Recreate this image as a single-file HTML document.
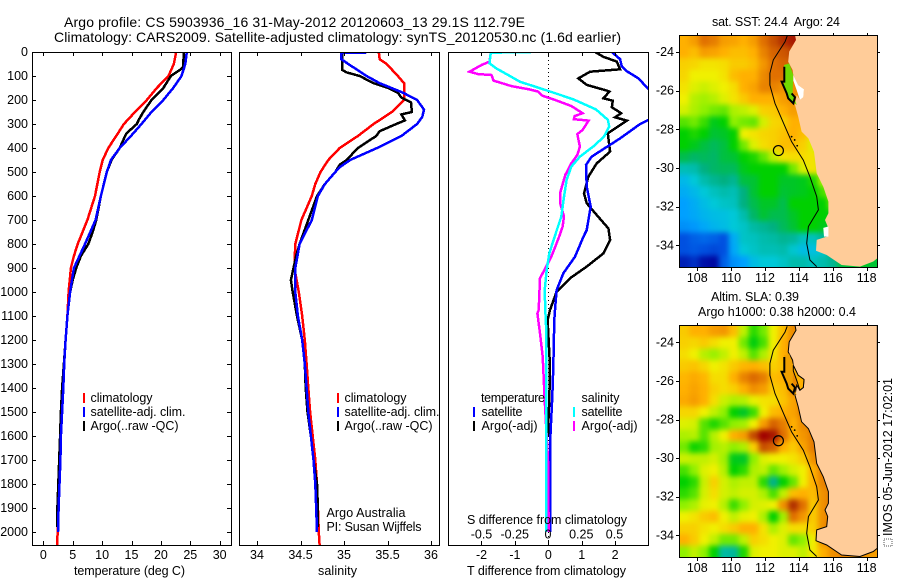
<!DOCTYPE html>
<html>
<head>
<meta charset="utf-8">
<title>Argo profile</title>
<style>
html,body{margin:0;padding:0;background:#fff;}
svg{display:block;font-family:"Liberation Sans",sans-serif;font-size:12.5px;fill:#000;}
text{fill:#000;}
</style>
</head>
<body>
<svg id="chart" width="900" height="580" viewBox="0 0 900 580" xmlns="http://www.w3.org/2000/svg">
  <defs>
    <clipPath id="clip-t"><rect x="32" y="52" width="199" height="493"/></clipPath>
    <clipPath id="clip-s"><rect x="240" y="52" width="199" height="493"/></clipPath>
    <clipPath id="clip-d"><rect x="448" y="52" width="200" height="493"/></clipPath>
    <clipPath id="clip-m1"><rect x="679" y="35" width="198" height="232"/></clipPath>
    <clipPath id="clip-m2"><rect x="679" y="325" width="198" height="232"/></clipPath>
    <filter id="soft-field" filterUnits="userSpaceOnUse" x="640" y="0" width="260" height="580" color-interpolation-filters="sRGB"><feGaussianBlur stdDeviation="2.6"/></filter>
  </defs>
  <rect x="0" y="0" width="900" height="580" fill="#fff"/>
  <text x="64" y="27" font-size="14" textLength="461">Argo profile: CS 5903936_16 31-May-2012 20120603_13 29.1S 112.79E</text>
  <text x="54" y="42" font-size="14" textLength="567">Climatology: CARS2009. Satellite-adjusted climatology: synTS_20120530.nc (1.6d earlier)</text>

  <g id="panel-t"></g>
  <g id="panel-s"></g>
  <g id="panel-d"></g>
  <g id="map-1"></g>
  <g id="map-2"></g>

  <text x="74" y="575" textLength="111">temperature (deg C)</text>
  <text x="318" y="575" textLength="39">salinity</text>
  <text x="467" y="575" textLength="159">T difference from climatology</text>
  <text x="467" y="524" textLength="160">S difference from climatology</text>

  <g>
    <rect x="83" y="393" width="2" height="10" fill="#f00"/>
    <rect x="83" y="407" width="2" height="10" fill="#00f"/>
    <rect x="83" y="421" width="2" height="10" fill="#000"/>
    <text x="90.5" y="402" textLength="62">climatology</text>
    <text x="90.5" y="416" textLength="95">satellite-adj. clim.</text>
    <text x="90.5" y="430" textLength="88">Argo(..raw -QC)</text>
  </g>
  <g>
    <rect x="337" y="393" width="2" height="10" fill="#f00"/>
    <rect x="337" y="407" width="2" height="10" fill="#00f"/>
    <rect x="337" y="421" width="2" height="10" fill="#000"/>
    <text x="344.5" y="402" textLength="62">climatology</text>
    <text x="344.5" y="416" textLength="95">satellite-adj. clim.</text>
    <text x="344.5" y="430" textLength="88">Argo(..raw -QC)</text>
    <text x="326.5" y="517" textLength="79">Argo Australia</text>
    <text x="326.5" y="531" textLength="95">PI: Susan Wijffels</text>
  </g>
  <g>
    <text x="481" y="402" textLength="64">temperature</text>
    <rect x="473" y="407" width="2" height="10" fill="#00f"/>
    <rect x="473" y="421" width="2" height="10" fill="#000"/>
    <text x="481.5" y="416" textLength="41">satellite</text>
    <text x="481.5" y="430" textLength="56">Argo(-adj)</text>
    <text x="581.5" y="402" textLength="38">salinity</text>
    <rect x="573" y="407" width="2" height="10" fill="#0ff"/>
    <rect x="573" y="421" width="2" height="10" fill="#f0f"/>
    <text x="581.5" y="416" textLength="41">satellite</text>
    <text x="581.5" y="430" textLength="56">Argo(-adj)</text>
  </g>

  <text x="712" y="26" textLength="128">sat. SST: 24.4&#160; Argo: 24</text>
  <text x="711" y="301" textLength="88">Altim. SLA: 0.39</text>
  <text x="698" y="316" textLength="158">Argo h1000: 0.38 h2000: 0.4</text>
  <rect x="884" y="539" width="8" height="7" fill="none" stroke="#555" stroke-width="1" stroke-dasharray="1 1"/>
  <text transform="translate(892,536) rotate(-90)" textLength="158">IMOS 05-Jun-2012 17:02:01</text>
</svg>
<script>
/* ---- profile data ---- */
const depthTicks = [0,100,200,300,400,500,600,700,800,900,1000,1100,1200,1300,1400,1500,1600,1700,1800,1900,2000];
const tempTicks = [0,5,10,15,20,25,30];
const salTicks = [34,34.5,35,35.5,36];
const tDiffTicks = [-2,-1,0,1,2];
const sDiffTicks = [-0.5,-0.25,0,0.25,0.5];
const lonTicks = [108,110,112,114,116,118];
const latTicks = [24,26,28,30,32,34];

const tempClimDepth = [0,50,100,150,200,250,300,350,400,450,500,600,700,800,850,900,1000,1100,1200,1300,1400,1500,1600,1700,1800,1900,2000,2054];
const tempClimValue = [22.6,22.2,21.3,19.3,17.6,15.6,13.7,12.4,11.05,10.1,9.6,8.8,7.5,5.85,5.2,4.7,4.3,4.1,3.8,3.5,3.3,3.18,3.0,2.85,2.72,2.55,2.45,2.33];
const tempSatDepth = [0,50,100,150,200,250,300,350,400,450,500,600,700,800,900,1000,1100,1200,1300,1400,1500,1600,1700,1800,1900,2000];
const tempSatValue = [24.4,24.15,23.5,22.1,20.4,18.4,16.7,14.9,13,11.5,10.8,9.8,8.9,7.1,5.2,4.55,4.1,3.8,3.55,3.4,3.2,3.0,2.9,2.75,2.6,2.5];
const tempArgoDepth = [0,60,70,100,150,200,250,280,300,340,400,450,500,600,700,750,800,850,900,950,1000,1100,1200,1300,1400,1500,1600,1700,1800,1900,1980];
const tempArgoValue = [23.9,23.8,23.5,21.7,20.4,18.4,17,16.3,15.9,14.1,13,11.6,10.8,9.8,9,8.4,7.65,6.4,5.6,5,4.55,4.1,3.8,3.5,3.2,3.0,2.85,2.7,2.55,2.4,2.4];

const salClimDepth = [0,30,50,100,130,200,250,300,350,400,450,500,550,600,700,800,900,1000,1100,1200,1300,1400,1500,1600,1700,1800,1900,2000,2054];
const salClimValue = [35.4,35.41,35.49,35.62,35.69,35.69,35.55,35.34,35.16,34.95,34.82,34.73,34.67,34.63,34.51,34.44,34.43,34.48,34.52,34.55,34.57,34.59,34.61,34.64,34.67,34.69,34.7,34.71,34.72];
const salSatDepth = [2,4,30,50,100,130,170,200,240,270,300,350,400,450,480,500,550,600,700,800,900,1000,1100,1200,1300,1400,1500,1600,1700,1800,1900,2000];
const salSatValue = [35.26,34.97,34.97,35.05,35.26,35.41,35.68,35.84,35.92,35.9,35.84,35.66,35.38,35.07,34.95,34.9,34.78,34.7,34.63,34.49,34.44,34.44,34.47,34.52,34.55,34.57,34.59,34.62,34.65,34.67,34.68,34.69];
const salArgoDepth = [0,75,85,100,115,130,150,170,190,210,250,260,285,300,330,350,400,450,470,500,550,600,700,800,850,900,950,1000,1100,1200,1300,1400,1500,1600,1700,1800,1900,1980];
const salArgoValue = [34.98,34.98,35.03,35.18,35.26,35.34,35.51,35.62,35.66,35.77,35.78,35.66,35.7,35.6,35.41,35.37,35.16,35.03,34.95,34.9,34.78,34.69,34.59,34.49,34.45,34.42,34.39,34.41,34.46,34.52,34.55,34.56,34.58,34.62,34.65,34.69,34.7,34.7];

const dTArgoDepth = [0,20,40,72,82,110,137,161,165,193,203,230,255,272,286,339,415,464,519,589,630,679,735,783,839,894,943,999,1075,1117,1311,1450,1547,1600];
const dTArgoValue = [1.4,1.65,2.05,2.15,1.25,0.9,1.15,1.75,1.83,1.65,1.93,1.9,2.18,2,2.35,1.78,1.85,1.45,1.2,1.07,1.15,1.45,1.8,1.85,1.65,1.15,0.65,0.25,0.05,-0.02,0.05,0.03,0,0];
const dTSatDepth = [0,30,60,80,110,155,200,283,300,360,400,436,471,561,644,742,770,853,922,992,1075,1117,1311,1436,1547,1640,2000];
const dTSatValue = [1.9,2.15,2.2,2.35,2.7,3,3.4,3,2.75,2.15,1.7,1.3,1.13,1.15,1.27,1.15,1.05,0.8,0.45,0.25,0.2,0.18,0.15,0.12,0.08,0.05,0.05];
const dSArgoDepth = [2,40,54,82,92,96,119,142,156,165,183,197,225,255,267,280,286,325,342,394,429,464,512,589,628,686,728,776,853,943,1075,1089,1172,1269,1450,1700,2000];
const dSArgoValue = [-0.43,-0.44,-0.5,-0.59,-0.525,-0.425,-0.41,-0.275,-0.14,-0.075,-0.04,0.04,0.175,0.26,0.2,0.195,0.305,0.26,0.22,0.24,0.22,0.175,0.13,0.09,0.09,0.12,0.11,0.08,0.025,-0.06,-0.07,-0.08,-0.06,-0.04,-0.025,0,0.005];
const dSSatDepth = [0,3,47,68,96,124,151,169,197,239,283,311,353,394,436,478,533,603,686,770,839,908,992,1075,1172,2000];
const dSSatValue = [-0.125,-0.43,-0.44,-0.39,-0.3,-0.21,-0.06,0.04,0.19,0.36,0.45,0.46,0.42,0.34,0.24,0.175,0.14,0.12,0.1,0.05,0.01,-0.01,-0.025,-0.02,-0.012,-0.012];

/* ---- map data: colour level per cell, north to south ---- */
const sstLevels = [
[8,8.3,9,8.8,8.3,8.2,8,8.3,9,9.5,10,10.5],
[8,7.8,8.3,8.2,8,7.8,7.8,8,8.7,9.2,9.4,9.7,9.7],
[7.5,7.4,7.2,7.2,7.3,7.6,7.6,7.8,8.4,9,9.2,9.3,9],
[7.4,7,7,7,7.2,7.8,8,8,8.6,9,9,9,8.8],
[7.2,6.8,6.6,6.8,7,7.3,8,8.2,8.7,8.7,8.5,8.5,8.5],
[7,6.4,6.2,6.4,6.8,7.2,7.6,8,8,8,8.3,8.5,8.5],
[6.7,6.3,6,5.8,5.7,6.3,6.5,6.8,7.5,7.6,8,8.3,8.2,8],
[5.6,5.8,5.4,4.8,5,6,5.8,5.7,6.7,7.4,7.5,8,8,7.5],
[5,5.2,5,4.6,4.7,5,7,7.2,7.4,7.5,7.7,8,7.8,7,6],
[5,4.8,4.5,4.3,4.5,5,5.8,6.8,7.3,7.5,7.8,7.8,7.5,6.8,5.3,5],
[4.4,4.2,4.3,4.2,4.5,4.6,5,5.2,5.7,6.5,7.2,7.3,7.3,7.2,6,5],
[3.4,3.5,4,4.2,4.3,4.3,4.8,5,5,5,5,5.8,6.8,7.2,6.5,5.5],
[2.6,3,3.5,3.8,4,3.8,4.5,4.6,5,5,4.7,4.7,4.8,5.2,6.3,6,5],
[2.3,2.6,3,3.3,3.5,3.4,4,4.6,5,5,4.6,4.7,4.8,5,5.5,6.5,5.5],
[2,2.3,2.7,3,3.2,3.3,4,4.4,4.7,4.7,4.4,5,5,5,5,5.8,5],
[2,2.2,2.5,2.7,2.8,3,3.5,4.2,4.6,4.4,4.4,4.7,5,5,5,4.8,4.6],
[1.8,1.9,2.2,2.5,2.7,3,3.2,3.6,3.8,4,4.3,4.6,5,5,4.8,4.5,4.5],
[1,1.2,1.3,1.2,1,2.3,3.2,3.3,3.5,3.6,3.8,3.7,3.3,3.3,3.7,4.4,4.4,4.5],
[1,1.1,1,0.9,1,2.2,3,3.2,3.4,3.4,3.5,3.1,2.7,2.8,3.1,4.2,4.4,4.6],
[0.4,0.6,0.2,0.1,1.2,1.8,2,2.7,3,3,3.2,3.5,3.5,3.3,3.5,3.8,4.5,4.6,4.7,4.6]
];
const slaLevels = [
[7.6,8,8,8.3,8.4,7.8,6.5,5.3,5.8,7,7.8,8.6,8.6],
[7.5,7.4,7.6,7.3,7,7,5.8,4.9,5.5,7,8,8.6,8.6,8.6],
[7.3,7,6.4,6.1,6.5,7,6.5,5.6,6.3,7.2,8,8.6,8.6],
[7.6,7.7,7.4,7,7.2,7.6,7.9,8,7.8,7.5,7.8,8.6,8.6,8.6],
[7.9,8.1,7.9,7.3,7.3,8,8.7,9.1,8.8,7.8,8,8.6,8.6],
[8,8.2,8,7.5,7.3,7.5,8,8.5,8.3,7.6,7.8,8.6,8.8],
[8.1,8.3,8,7.3,6.6,6.3,6.4,6.9,7.2,7.3,7.7,8.2,8.8,9],
[7.4,7.4,7,6.5,6,5,4.7,5.4,7,7.8,8,8.2,8.8,9],
[6.8,6.7,5.6,5.2,5.6,6,6.2,7,8.3,9.2,8.8,8,8.6,8.9,9],
[6.3,6.4,5.6,6.4,7,8,8.3,9.6,11,10.5,9,8,8.4,8.8,9],
[5.8,5.1,5.3,6.2,6.4,6,6.3,7.5,9.5,9.2,8,7.6,8.2,8.8,9],
[6.6,6.5,6.5,6.7,6.2,4.8,4.7,6,6.8,7,7,7.2,7.6,8.5,9],
[5.5,6,6.8,7,6.4,5,5.3,6.3,6.5,5.7,6.2,6.7,7,8,8.8,9],
[5,5.3,6.6,7.5,6.7,6.3,6.5,6.5,5.3,3.9,5,5.7,7,8,8.7,9],
[5.3,5.6,6.7,7.3,6.7,6.5,6.7,6.7,6.3,5.5,6.5,7.8,8,7.8,8.5,8.9],
[6,6.3,6.9,7,6.4,5.4,6,6.7,6.8,7,8.5,10,9,7.6,8.5,9],
[7,7.2,7.6,7.8,7,6.5,6.9,7,6.3,5,6.2,9,8.4,7.6,8.5,9,9],
[7.5,7.5,7.2,7,7.3,7.6,8,8,7.2,6.3,6.8,7.3,7.3,7.5,8.5,9.2],
[8,7.6,7,6.5,5.8,5.8,6.5,7.5,7.3,7,6.8,5.7,6,7,8.5,8.8,8.8],
[6,6.5,6,5,3.6,3.7,5.2,6.8,7,7,6.8,6.8,6.5,7.1,8,8.5,8.7,8.5,8.5,8.3]
];
const coastLon = [113.77,113.83,113.43,113.37,113.63,113.67,113.96,114.3,114.26,114.06,113.87,113.77,113.96,114.16,114.56,114.89,115.05,115.44,115.74,115.74,115.54,115.7,115.64,115.05,115.01,115.64,116.52,117.61,118.39,118.63,118.63];
const coastLat = [23.12,23.38,23.98,24.5,24.93,25.19,25.71,25.93,26.34,26.48,26.22,26.74,27.34,28.12,28.47,29.16,30.28,30.97,31.74,32.34,32.69,33.03,33.55,33.72,34.28,34.5,35.02,35.1,34.84,34.67,23.12];
const isobathLon = [113.31,113.18,112.49,112.29,112.29,112.59,113.18,113.57,114.26,114.65,115.05,115.15,114.56,114.46,114.65,115.05];
const isobathLat = [23.17,23.47,24.41,25.1,25.71,26.66,27.86,28.64,29.59,30.45,31.48,32.17,33.03,33.9,34.76,35.1];
const bayLon = [113.12,113.43,113.67,113.63,113.87,113.37,113.12];
const bayLat = [24.67,24.59,25.19,26.14,26.74,26.4,25.79];
const bayWhiteLon = [113.67,113.96,114.3,114.26,114.06,113.87,113.67];
const bayWhiteLat = [25.19,25.71,25.93,26.34,26.48,25.97,25.48];
const bayLineLon = [113.14,113.14,112.98,113.28,113.37,113.67,113.77,113.57];
const bayLineLat = [24.76,25.53,25.53,26.14,26.4,26.66,26.34,26.14];
const capeWhiteLon = [115.44,115.74,115.74,115.48];
const capeWhiteLat = [33.1,33.03,33.55,33.55];
const isletLon = [113.57,113.75,113.9];
const isletLat = [28.38,28.55,28.85];
const floatLon = [112.79];
const floatLat = [29.1];

/* ---- drawing helpers ---- */
const NS = 'http://www.w3.org/2000/svg';
function make(tag, attrs, parent) {
  const el = document.createElementNS(NS, tag);
  for (const k in attrs) el.setAttribute(k, attrs[k]);
  parent.appendChild(el);
  return el;
}
const depthY = d => 52 + 0.24 * d;
const tempX = v => 43.3 + 5.88 * v;
const salX = v => 257 + 87 * (v - 34);
const dTX = v => 548.3 + 33.4 * v;
const dSX = v => 548 + 133 * v;

function drawProfile(parent, clipId, xFn, depths, values, color, name) {
  const pts = values.map((v, i) => xFn(v).toFixed(1) + ',' + depthY(depths[i]).toFixed(1)).join(' ');
  const line = make('polyline', {points: pts, fill: 'none', stroke: color, 'stroke-width': 2.5, 'clip-path': 'url(#' + clipId + ')', 'shape-rendering': 'crispEdges'}, parent);
  
  
}
function drawBox(parent, x, y, w, h, name) {
  const box = make('rect', {x: x + 0.5, y: y + 0.5, width: w, height: h, fill: 'none', stroke: '#000', 'stroke-width': 1, 'shape-rendering': 'crispEdges'}, parent);
  
  
}
function drawTick(parent, x1, y1, x2, y2) {
  const t = make('line', {x1: x1, y1: y1, x2: x2, y2: y2, stroke: '#000', 'stroke-width': 1, 'shape-rendering': 'crispEdges'}, parent);
  
  
}
function drawLabel(parent, x, y, str, anchor) {
  const t = make('text', {x: x, y: y, 'text-anchor': anchor}, parent);
  t.textContent = str;
  
  
}
function drawXAxis(parent, ticks, xFn, withLabels) {
  ticks.forEach(v => {
    const x = Math.round(xFn(v)) + 0.5;
    drawTick(parent, x, 52, x, 56);
    drawTick(parent, x, 541, x, 545);
    if (withLabels) drawLabel(parent, xFn(v), 559, String(v), 'middle');
  });
}

/* temperature panel */
const gT = document.getElementById('panel-t');
drawProfile(gT, 'clip-t', tempX, tempClimDepth, tempClimValue, '#f00', 'temperature-climatology-line');
drawProfile(gT, 'clip-t', tempX, tempArgoDepth, tempArgoValue, '#000', 'temperature-argo-line');
drawProfile(gT, 'clip-t', tempX, tempSatDepth, tempSatValue, '#00f', 'temperature-satellite-line');
drawBox(gT, 32, 52, 199, 493, 'temperature-plot-frame');
drawXAxis(gT, tempTicks, tempX, true);
depthTicks.forEach(d => {
  const y = Math.round(depthY(d)) + 0.5;
  drawTick(gT, 32, y, 36, y);
  drawTick(gT, 227, y, 231, y);
  drawLabel(gT, 28, depthY(d) + 4, String(d), 'end');
});

/* salinity panel */
const gS = document.getElementById('panel-s');
drawProfile(gS, 'clip-s', salX, salClimDepth, salClimValue, '#f00', 'salinity-climatology-line');
drawProfile(gS, 'clip-s', salX, salArgoDepth, salArgoValue, '#000', 'salinity-argo-line');
drawProfile(gS, 'clip-s', salX, salSatDepth, salSatValue, '#00f', 'salinity-satellite-line');
drawBox(gS, 239, 52, 200, 493, 'salinity-plot-frame');
drawXAxis(gS, salTicks, salX, true);

/* difference panel */
const gD = document.getElementById('panel-d');
const zero = make('line', {x1: 548.5, y1: 52, x2: 548.5, y2: 545, stroke: '#000', 'stroke-width': 1, 'stroke-dasharray': '1 3', 'shape-rendering': 'crispEdges'}, gD);


drawProfile(gD, 'clip-d', dTX, dTArgoDepth, dTArgoValue, '#000', 't-difference-argo-line');
drawProfile(gD, 'clip-d', dTX, dTSatDepth, dTSatValue, '#00f', 't-difference-satellite-line');
drawProfile(gD, 'clip-d', dSX, dSArgoDepth, dSArgoValue, '#f0f', 's-difference-argo-line');
drawProfile(gD, 'clip-d', dSX, dSSatDepth, dSSatValue, '#0ff', 's-difference-satellite-line');
drawBox(gD, 448, 52, 200, 493, 'difference-plot-frame');
drawXAxis(gD, tDiffTicks, dTX, true);
sDiffTicks.forEach(v => drawLabel(gD, dSX(v), 538.5, String(v), 'middle'));

/* maps */
const colorStops = [[0,0,154],[0,80,224],[0,160,255],[0,200,216],[0,176,128],[0,208,0],[144,240,0],[240,240,0],[255,176,0],[224,112,0],[176,48,0],[160,0,0]];
function levelColor(v) {
  const i = Math.max(0, Math.min(colorStops.length - 2, Math.floor(v)));
  const f = Math.max(0, Math.min(1, v - i));
  const a = colorStops[i], b = colorStops[i + 1];
  return 'rgb(' + a.map((c, k) => Math.round(c + (b[k] - c) * f)).join(',') + ')';
}
const LON0 = 106.94, LON1 = 118.63, LAT0 = 23.12, LAT1 = 35.14;
const lonX = lon => 679.3 + (lon - LON0) * 16.94;

function pts(lons, lats, latY) {
  return lons.map((v, i) => lonX(v).toFixed(1) + ',' + latY(lats[i]).toFixed(1)).join(' ');
}

function drawMap(gid, clipId, levels, latY, top, isSst) {
  const g = document.getElementById(gid);
  const frameClip = make('g', {'clip-path': 'url(#' + clipId + ')'}, g);
  
  
  const cells = make('g', {filter: 'url(#soft-field)'}, frameClip);
  
  
  const cw = (LON1 - LON0) / 20, ch = (LAT1 - LAT0) / 20;
  levels.forEach((row, r) => {
    row.forEach((v, c) => {
      let x = lonX(LON0 + c * cw), y = latY(LAT0 + r * ch);
      let w = lonX(LON0 + (c + 1) * cw) - x, h = latY(LAT0 + (r + 1) * ch) - y;
      /* outer cells run past the frame so the soft edge stays outside it */
      if (c === 0) { x -= 14; w += 14; }
      if (c === row.length - 1) { w += 40; }
      if (r === 0) { y -= 14; h += 14; }
      if (r === levels.length - 1) { h += 14; }
      const cell = make('rect', {x: x.toFixed(1), y: y.toFixed(1), width: (w + 0.6).toFixed(1), height: (h + 0.6).toFixed(1), fill: levelColor(v)}, cells);
      
      
    });
  });
  const land = make('polygon', {points: pts(coastLon, coastLat, latY), fill: '#ffcc99', stroke: isSst ? 'none' : '#000', 'stroke-width': 1, 'clip-path': 'url(#' + clipId + ')'}, g);
  
  
  const bay = make('polygon', {points: pts(bayLon, bayLat, latY), fill: isSst ? '#70d800' : '#f0a000', 'clip-path': 'url(#' + clipId + ')'}, g);
  
  
  const white = make('polygon', {points: pts(bayWhiteLon, bayWhiteLat, latY), fill: isSst ? '#fff' : '#ffb000', stroke: isSst ? 'none' : '#000', 'clip-path': 'url(#' + clipId + ')'}, g);
  
  
  if (isSst) {
    const cape = make('polygon', {points: pts(capeWhiteLon, capeWhiteLat, latY), fill: '#fff'}, g);
    
    
  }
  const bayLine = make('polyline', {points: pts(bayLineLon, bayLineLat, latY), fill: 'none', stroke: '#000', 'stroke-width': 2}, g);
  
  
  const iso = make('polyline', {points: pts(isobathLon, isobathLat, latY), fill: 'none', stroke: '#000', 'stroke-width': 1, 'clip-path': 'url(#' + clipId + ')'}, g);
  
  
  isletLon.forEach((lon, i) => {
    const dot = make('circle', {cx: lonX(lon), cy: latY(isletLat[i]), r: 0.9, fill: '#000'}, g);
    
    
  });
  const marker = make('circle', {cx: lonX(floatLon[0]), cy: latY(floatLat[0]), r: 5, fill: 'none', stroke: '#000', 'stroke-width': 1.2}, g);
  
  
  drawBox(g, 679, top, 198, 232, 'map-frame');
  const bottom = top + 232;
  lonTicks.forEach(lon => {
    const x = Math.round(lonX(lon)) + 0.5;
    drawTick(g, x, top - 2, x, top);
    drawTick(g, x, bottom + 1, x, bottom + 4);
    drawLabel(g, lonX(lon), bottom + 15, String(lon), 'middle');
  });
  latTicks.forEach(lat => {
    const y = Math.round(latY(lat)) + 0.5;
    drawTick(g, 877, y, 880, y);
    drawTick(g, 676, y, 679, y);
    drawLabel(g, 674, latY(lat) + 4, '-' + lat, 'end');
  });
}
drawMap('map-1', 'clip-m1', sstLevels, lat => 52 + (lat - 24) * 19.33, 35, true);
drawMap('map-2', 'clip-m2', slaLevels, lat => 342.3 + (lat - 24) * 19.3, 325, false);
</script>
</body>
</html>
